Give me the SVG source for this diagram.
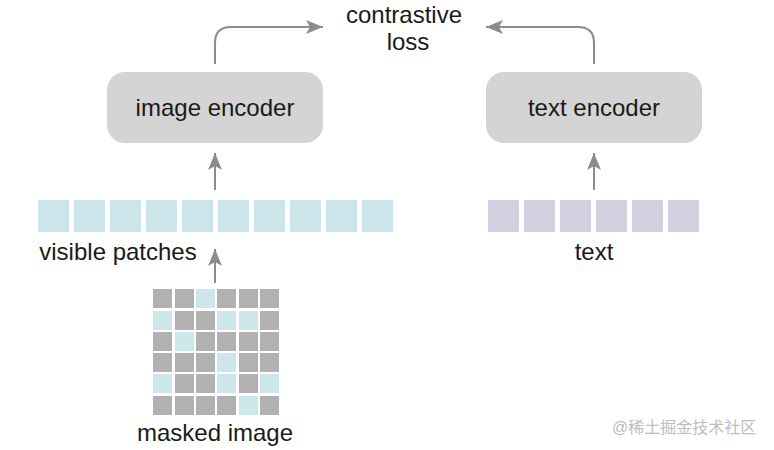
<svg xmlns="http://www.w3.org/2000/svg" width="774" height="450" viewBox="0 0 774 450">
<style>
.box{fill:#d4d4d4;}
.lbl{font-family:"Liberation Sans",Arial,sans-serif;font-size:24px;fill:#1a1a1a;text-anchor:middle;}
.conn{fill:none;stroke:#8c8c8c;stroke-width:2;}
.vp{fill:#cce5ea;}
.tp{fill:#d1d1e2;}
.g{fill:#b1b1b1;}
.c{fill:#cce6ea;}
.wm{font-family:"Liberation Sans","Noto Sans CJK SC",sans-serif;font-size:16px;fill:#bdbdbd;}
</style>
<defs>
<marker id="ah" markerUnits="userSpaceOnUse" markerWidth="20" markerHeight="16" viewBox="-18 -8 20 16" refX="0" refY="0" orient="auto">
<path d="M0,0 L-17,-7 L-13,0 L-17,7 Z" fill="#8c8c8c"/>
</marker>
<filter id="soft" x="-10%" y="-10%" width="120%" height="120%"><feGaussianBlur stdDeviation="0.7"/></filter>
</defs>
<rect width="774" height="450" fill="#ffffff"/>

<g id="connectors">
<path class="conn" d="M215,64 V43 Q215,27 231,27 H323" marker-end="url(#ah)"/>
<path class="conn" d="M594,64 V43 Q594,27 578,27 H486" marker-end="url(#ah)"/>
<path class="conn" d="M215,190 V153" marker-end="url(#ah)"/>
<path class="conn" d="M215,283 V249" marker-end="url(#ah)"/>
<path class="conn" d="M594,190 V153" marker-end="url(#ah)"/>
</g>

<g id="contrastive-loss">
<text class="lbl" x="404" y="23">contrastive</text>
<text class="lbl" x="408" y="50">loss</text>
</g>

<g id="image-encoder">
<rect class="box" x="107" y="72" width="216" height="71" rx="18"/>
<text class="lbl" x="215" y="116">image encoder</text>
</g>

<g id="text-encoder">
<rect class="box" x="486" y="72" width="216" height="71" rx="18"/>
<text class="lbl" x="594" y="116">text encoder</text>
</g>

<g id="visible-patches" filter="url(#soft)">
<rect class="vp" x="38" y="200" width="31" height="32"/>
<rect class="vp" x="74" y="200" width="31" height="32"/>
<rect class="vp" x="110" y="200" width="31" height="32"/>
<rect class="vp" x="146" y="200" width="31" height="32"/>
<rect class="vp" x="182" y="200" width="31" height="32"/>
<rect class="vp" x="218" y="200" width="31" height="32"/>
<rect class="vp" x="254" y="200" width="31" height="32"/>
<rect class="vp" x="290" y="200" width="31" height="32"/>
<rect class="vp" x="326" y="200" width="31" height="32"/>
<rect class="vp" x="362" y="200" width="31" height="32"/>
</g>
<g id="visible-patches-label">
<text class="lbl" x="118" y="260">visible patches</text>
</g>

<g id="text-tokens" filter="url(#soft)">
<rect class="tp" x="488" y="200" width="31" height="32"/>
<rect class="tp" x="524" y="200" width="31" height="32"/>
<rect class="tp" x="560" y="200" width="31" height="32"/>
<rect class="tp" x="596" y="200" width="31" height="32"/>
<rect class="tp" x="632" y="200" width="31" height="32"/>
<rect class="tp" x="668" y="200" width="31" height="32"/>
</g>
<g id="text-label">
<text class="lbl" x="594" y="260">text</text>
</g>

<g id="masked-image">
<rect class="g" x="153" y="289" width="19" height="19"/>
<rect class="g" x="175" y="289" width="19" height="19"/>
<rect class="c" x="196" y="289" width="19" height="19"/>
<rect class="g" x="217" y="289" width="19" height="19"/>
<rect class="g" x="239" y="289" width="19" height="19"/>
<rect class="g" x="260" y="289" width="19" height="19"/>

<rect class="c" x="153" y="311" width="19" height="19"/>
<rect class="g" x="175" y="311" width="19" height="19"/>
<rect class="g" x="196" y="311" width="19" height="19"/>
<rect class="c" x="217" y="311" width="19" height="19"/>
<rect class="c" x="239" y="311" width="19" height="19"/>
<rect class="g" x="260" y="311" width="19" height="19"/>

<rect class="g" x="153" y="332" width="19" height="19"/>
<rect class="c" x="175" y="332" width="19" height="19"/>
<rect class="g" x="196" y="332" width="19" height="19"/>
<rect class="g" x="217" y="332" width="19" height="19"/>
<rect class="g" x="239" y="332" width="19" height="19"/>
<rect class="g" x="260" y="332" width="19" height="19"/>

<rect class="g" x="153" y="353" width="19" height="19"/>
<rect class="g" x="175" y="353" width="19" height="19"/>
<rect class="g" x="196" y="353" width="19" height="19"/>
<rect class="c" x="217" y="353" width="19" height="19"/>
<rect class="g" x="239" y="353" width="19" height="19"/>
<rect class="g" x="260" y="353" width="19" height="19"/>

<rect class="c" x="153" y="374" width="19" height="19"/>
<rect class="g" x="175" y="374" width="19" height="19"/>
<rect class="g" x="196" y="374" width="19" height="19"/>
<rect class="c" x="217" y="374" width="19" height="19"/>
<rect class="g" x="239" y="374" width="19" height="19"/>
<rect class="c" x="260" y="374" width="19" height="19"/>

<rect class="g" x="153" y="396" width="19" height="19"/>
<rect class="g" x="175" y="396" width="19" height="19"/>
<rect class="g" x="196" y="396" width="19" height="19"/>
<rect class="g" x="217" y="396" width="19" height="19"/>
<rect class="c" x="239" y="396" width="19" height="19"/>
<rect class="g" x="260" y="396" width="19" height="19"/>
</g>
<g id="masked-image-label">
<text class="lbl" x="215" y="441">masked image</text>
</g>

<g id="watermark">
<text class="wm" x="612" y="433">@稀土掘金技术社区</text>
</g>
</svg>
